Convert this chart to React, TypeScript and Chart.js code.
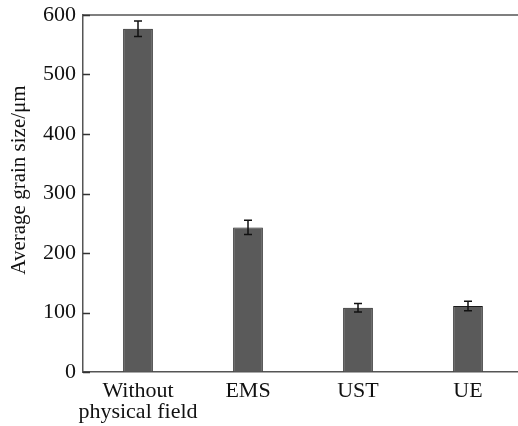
import React, { useEffect, useRef } from "react";
import { Chart, registerables } from "chart.js";

Chart.register(...registerables);

const categories: (string | string[])[] = [["Without", "physical field"], "EMS", "UST", "UE"];
const grainSize = [577, 243, 108, 111];
const grainError = [13, 12, 7, 8];
const yMin = 0;
const yMax = 600;
const yStep = 100;
const yTitle = "Average grain size/\u03bcm";

const FONT = "Liberation Serif, Times New Roman, Times, serif";

const errorBarPlugin = {
  id: "errorBars",
  afterDatasetsDraw(chart: any) {
    const meta = chart.getDatasetMeta(0);
    const y = chart.scales.y;
    const ctx = chart.ctx;
    ctx.save();
    ctx.strokeStyle = "#111";
    ctx.lineWidth = 1.5;
    meta.data.forEach((el: any, i: number) => {
      const v = grainSize[i];
      const e = grainError[i];
      const yt = y.getPixelForValue(v + e);
      const yb = y.getPixelForValue(v - e);
      const x = el.x;
      const cap = 4;
      ctx.beginPath();
      ctx.moveTo(x, yt);
      ctx.lineTo(x, yb);
      ctx.moveTo(x - cap, yt);
      ctx.lineTo(x + cap, yt);
      ctx.moveTo(x - cap, yb);
      ctx.lineTo(x + cap, yb);
      ctx.stroke();
    });
    ctx.restore();
  },
};

const framePlugin = {
  id: "frameTop",
  afterDraw(chart: any) {
    const { ctx, chartArea } = chart;
    const y = chart.scales.y;
    ctx.save();
    ctx.strokeStyle = "#555";
    ctx.lineWidth = 1.5;
    ctx.beginPath();
    ctx.moveTo(chartArea.left, chartArea.top);
    ctx.lineTo(chart.width, chartArea.top);
    ctx.stroke();
    // inward y ticks
    ctx.strokeStyle = "#333";
    ctx.beginPath();
    y.ticks.forEach((t: any) => {
      const py = Math.round(y.getPixelForValue(t.value)) + 0.5;
      ctx.moveTo(chartArea.left, py);
      ctx.lineTo(chartArea.left + 7, py);
    });
    ctx.stroke();
    // y title
    ctx.fillStyle = "#111";
    ctx.font = `21px ${FONT}`;
    ctx.textAlign = "center";
    ctx.textBaseline = "middle";
    ctx.translate(19, 180);
    ctx.rotate(-Math.PI / 2);
    ctx.fillText(yTitle, 0, 0);
    ctx.restore();
  },
};

export default function App() {
  const ref = useRef<HTMLCanvasElement | null>(null);
  useEffect(() => {
    document.body.style.margin = "0";
    if (!ref.current) return;
    const chart = new Chart(ref.current, {
      type: "bar",
      data: {
        labels: categories,
        datasets: [
          {
            data: grainSize,
            backgroundColor: "#5a5a5a",
            borderColor: "#1a1a1a",
            borderWidth: 1,
            barPercentage: 0.27,
            categoryPercentage: 1,
          },
        ],
      },
      options: {
        responsive: false,
        animation: false,
        layout: { padding: { top: 0, right: 17, left: 0, bottom: 0 } },
        plugins: { legend: { display: false }, tooltip: { enabled: false } },
        scales: {
          x: {
            grid: { display: true, drawOnChartArea: false, drawTicks: false },
            border: { display: true, color: "#555", width: 1.5 },
            ticks: {
              color: "#111",
              padding: 9,
              font: { family: FONT, size: 22, lineHeight: 0.94 },
              maxRotation: 0,
              autoSkip: false,
            },
            afterFit(scale: any) {
              scale.height = 54;
            },
          },
          y: {
            min: yMin,
            max: yMax,
            grid: { display: true, drawOnChartArea: false, drawTicks: false },
            border: { display: true, color: "#555", width: 1.5 },
            ticks: {
              stepSize: yStep,
              color: "#111",
              padding: 7,
              font: { family: FONT, size: 22 },
            },
            afterFit(scale: any) {
              scale.width = 83;
              scale.paddingTop = 15;
              scale.paddingBottom = 0;
            },
          },
        },
      },
      plugins: [errorBarPlugin, framePlugin],
    });
    return () => chart.destroy();
  }, []);
  return (
    <div style={{ width: 518, height: 426, overflow: "hidden" }}>
      <canvas ref={ref} width={540} height={426} style={{ display: "block" }} />
    </div>
  );
}
